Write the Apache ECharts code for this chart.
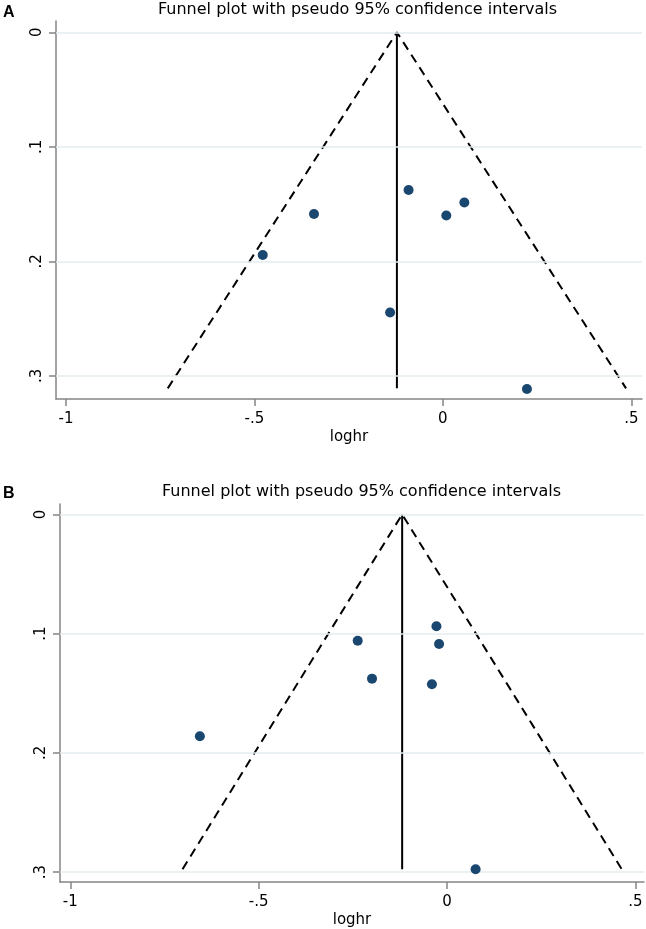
<!DOCTYPE html>
<html><head><meta charset="utf-8">
<script src="https://cdn.jsdelivr.net/npm/echarts@6/dist/echarts.min.js"></script>
<style>html,body{margin:0;padding:0;background:#fff}#c{width:646px;height:929px}</style>
</head><body><div id="c"></div>
<script>
// ---- data ----
const titleText = 'Funnel plot with pseudo 95% confidence intervals';
const xName = 'loghr';
const xTickValues = [-1, -0.5, 0, 0.5];
const xTickLabels = ['-1', '-.5', '0', '.5'];
const yTickValues = [0, 0.1, 0.2, 0.3];
const yTickLabels = ['0', '.1', '.2', '.3'];

// Panel A: studies [loghr, s.e.]
const studiesA = [[-0.478, 0.1945], [-0.342, 0.1587], [-0.091, 0.1377], [0.009, 0.160], [0.057, 0.1487], [-0.140, 0.2448], [0.223, 0.3115]];
const pooledA = [[-0.122, 0], [-0.122, 0.311]];
const funnelA = [[-0.730, 0.311], [-0.122, 0], [0.486, 0.311]];

// Panel B
const studiesB = [[-0.656, 0.186], [-0.237, 0.1059], [-0.199, 0.1377], [-0.028, 0.0938], [-0.021, 0.1086], [-0.040, 0.1424], [0.076, 0.2975]];
const pooledB = [[-0.119, 0], [-0.119, 0.2975]];
const funnelB = [[-0.702, 0.2975], [-0.119, 0], [0.464, 0.2975]];

// ---- styling ----
const FONT = 'DejaVu Sans';
const AX = '#858585';
const GRIDC = '#e4ecee';
const DOT = '#1a476f';

function lab(vals, labs) {
  return v => { for (let i = 0; i < vals.length; i++) if (Math.abs(vals[i] - v) < 1e-9) return labs[i]; return ''; };
}

function xAxisOf(gi, min, max) {
  return {
    gridIndex: gi, type: 'value', min: min, max: max,
    name: xName, nameLocation: 'middle', nameGap: 31,
    nameTextStyle: { fontFamily: FONT, fontSize: 15, color: '#000' },
    axisLine: { onZero: false, lineStyle: { color: AX, width: 1.5 } },
    axisTick: { show: true, length: 7, lineStyle: { color: AX, width: 1.5 }, customValues: xTickValues },
    axisLabel: { customValues: xTickValues, formatter: lab(xTickValues, xTickLabels), margin: 13,
      fontFamily: FONT, fontSize: 15, color: '#000' },
    splitLine: { show: false }
  };
}
function yAxisOf(gi, min, max) {
  return {
    gridIndex: gi, type: 'value', min: min, max: max, inverse: true,
    axisLine: { onZero: false, lineStyle: { color: AX, width: 1.5 } },
    axisTick: { show: true, length: 7, lineStyle: { color: AX, width: 1.5 }, customValues: yTickValues },
    axisLabel: { customValues: yTickValues, formatter: lab(yTickValues, yTickLabels), rotate: 90, margin: 11,
      fontFamily: FONT, fontSize: 15, color: '#000' },
    splitLine: { show: false }
  };
}
function panelSeries(i, studies, pooled, funnel) {
  return [
    { type: 'line', xAxisIndex: i, yAxisIndex: i, data: [], z: 1, silent: true,
      markLine: { silent: true, symbol: 'none', animation: false, label: { show: false },
        lineStyle: { color: GRIDC, width: 1.5, type: 'solid' },
        emphasis: { disabled: true },
        data: yTickValues.map(v => ({ yAxis: v })) } },
    { type: 'line', xAxisIndex: i, yAxisIndex: i, data: funnel, showSymbol: false, symbol: 'none', z: 3,
      lineStyle: { color: '#000', width: 2, type: [9, 6] } },
    { type: 'line', xAxisIndex: i, yAxisIndex: i, data: pooled, showSymbol: false, symbol: 'none', z: 3,
      lineStyle: { color: '#000', width: 2, type: 'solid' } },
    { type: 'scatter', xAxisIndex: i, yAxisIndex: i, data: studies, symbol: 'circle', symbolSize: 10, z: 5,
      itemStyle: { color: DOT, opacity: 1 } }
  ];
}

const chart = echarts.init(document.getElementById('c'), null, { renderer: 'canvas' });
chart.setOption({
  animation: false,
  backgroundColor: '#fff',
  title: [
    { text: titleText, left: 158, top: 2, padding: 0, textStyle: { fontFamily: FONT, fontSize: 16, fontWeight: 'normal', color: '#000' } },
    { text: 'A', left: 3, top: 5, padding: 0, textStyle: { fontFamily: 'Liberation Sans', fontSize: 16, fontWeight: 'bold', color: '#000' } },
    { text: titleText, left: 162, top: 484, padding: 0, textStyle: { fontFamily: FONT, fontSize: 16, fontWeight: 'normal', color: '#000' } },
    { text: 'B', left: 3, top: 486, padding: 0, textStyle: { fontFamily: 'Liberation Sans', fontSize: 16, fontWeight: 'bold', color: '#000' } }
  ],
  grid: [
    { left: 56, top: 21, width: 586, height: 378, containLabel: false },
    { left: 60, top: 504, width: 584, height: 378, containLabel: false }
  ],
  xAxis: [xAxisOf(0, -1.0265, 0.5283), xAxisOf(1, -1.0273, 0.523)],
  yAxis: [yAxisOf(0, -0.0099, 0.3203), yAxisOf(1, -0.0087, 0.3082)],
  series: [].concat(panelSeries(0, studiesA, pooledA, funnelA), panelSeries(1, studiesB, pooledB, funnelB))
});
</script>
</body></html>
